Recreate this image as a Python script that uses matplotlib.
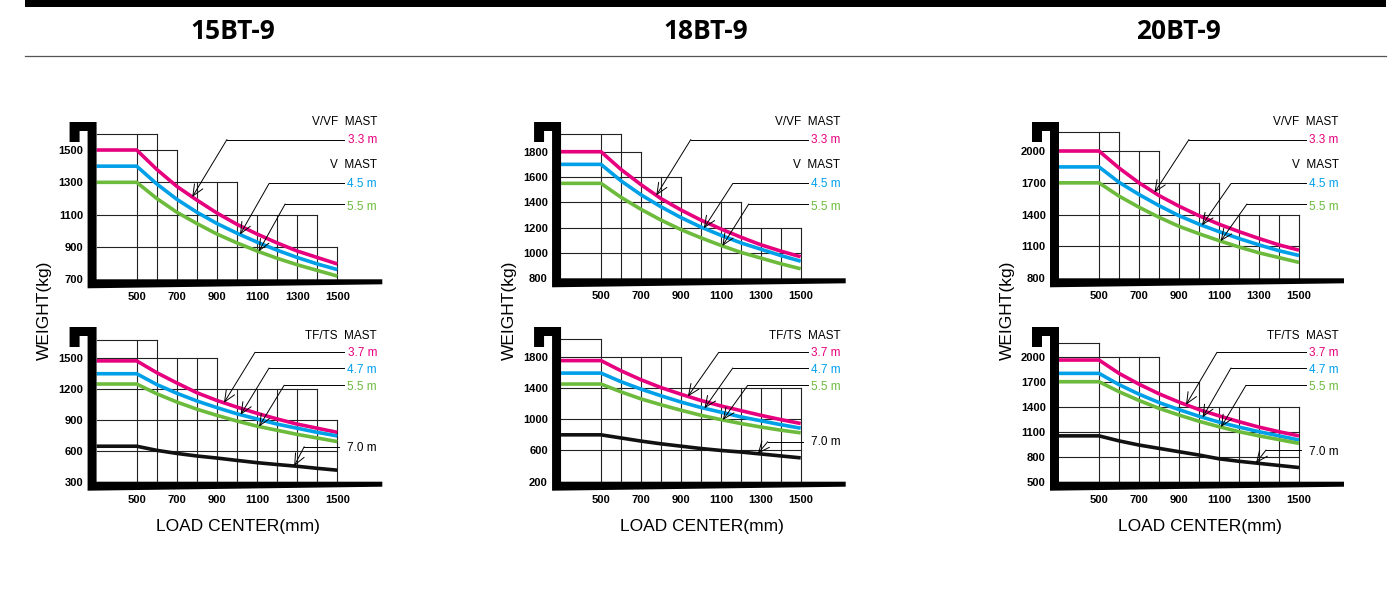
import numpy as np
import matplotlib
matplotlib.use("Agg")
from matplotlib import pyplot as plt
from matplotlib.patches import Polygon, Rectangle
from matplotlib.lines import Line2D
from matplotlib.transforms import blended_transform_factory

########################################################################
# data
########################################################################

models = ["15BT-9", "18BT-9", "20BT-9"]
load_center = [300, 500, 600, 700, 800, 900, 1000, 1100, 1200, 1300, 1400, 1500]
x_ticks = [500, 700, 900, 1100, 1300, 1500]
grid_x = [500, 600, 700, 800, 900, 1000, 1100, 1200, 1300, 1400, 1500]

# 15BT-9, V/VF and V mast
bt15_v_ticks = [700, 900, 1100, 1300, 1500]
bt15_v_steps = [(600, 1600), (700, 1500), (1000, 1300), (1400, 1100), (1500, 900)]
bt15_v_33 = [1500, 1500, 1380, 1275, 1190, 1110, 1040, 980, 925, 875, 835, 795]
bt15_v_45 = [1400, 1400, 1290, 1195, 1115, 1045, 985, 930, 880, 835, 795, 760]
bt15_v_55 = [1300, 1300, 1200, 1115, 1045, 980, 925, 875, 830, 790, 755, 720]

# 15BT-9, TF/TS mast
bt15_t_ticks = [300, 600, 900, 1200, 1500]
bt15_t_steps = [(600, 1680), (900, 1500), (1400, 1200), (1500, 900)]
bt15_t_37 = [1475, 1475, 1360, 1260, 1165, 1090, 1025, 965, 910, 860, 820, 780]
bt15_t_47 = [1350, 1350, 1245, 1160, 1085, 1020, 960, 910, 860, 820, 780, 745]
bt15_t_55 = [1250, 1250, 1155, 1075, 1005, 945, 890, 840, 800, 760, 725, 690]
bt15_t_70 = [645, 645, 605, 575, 550, 530, 507, 485, 467, 450, 430, 412]

# 18BT-9, V/VF and V mast
bt18_v_ticks = [800, 1000, 1200, 1400, 1600, 1800]
bt18_v_steps = [(600, 1940), (700, 1800), (900, 1600), (1200, 1400), (1500, 1200)]
bt18_v_33 = [1800, 1800, 1660, 1540, 1430, 1340, 1260, 1190, 1125, 1065, 1015, 970]
bt18_v_45 = [1700, 1700, 1570, 1460, 1365, 1280, 1205, 1140, 1080, 1030, 980, 935]
bt18_v_55 = [1550, 1550, 1440, 1345, 1260, 1185, 1120, 1060, 1005, 960, 915, 875]

# 18BT-9, TF/TS mast
bt18_t_ticks = [200, 600, 1000, 1400, 1800]
bt18_t_steps = [(500, 2030), (900, 1800), (1500, 1400)]
bt18_t_37 = [1750, 1750, 1620, 1505, 1405, 1320, 1240, 1170, 1110, 1050, 995, 945]
bt18_t_47 = [1590, 1590, 1480, 1385, 1300, 1220, 1150, 1090, 1030, 980, 930, 885]
bt18_t_55 = [1450, 1450, 1350, 1260, 1185, 1115, 1050, 995, 945, 900, 860, 825]
bt18_t_70 = [800, 800, 760, 720, 685, 655, 625, 600, 580, 555, 530, 505]

# 20BT-9, V/VF and V mast
bt20_v_ticks = [800, 1100, 1400, 1700, 2000]
bt20_v_steps = [(600, 2180), (800, 2000), (1100, 1700), (1500, 1400)]
bt20_v_33 = [2000, 2000, 1840, 1700, 1580, 1480, 1390, 1310, 1240, 1175, 1115, 1065]
bt20_v_45 = [1850, 1850, 1705, 1590, 1485, 1390, 1310, 1240, 1175, 1115, 1060, 1015]
bt20_v_55 = [1700, 1700, 1575, 1470, 1375, 1290, 1220, 1155, 1095, 1040, 995, 950]

# 20BT-9, TF/TS mast
bt20_t_ticks = [500, 800, 1100, 1400, 1700, 2000]
bt20_t_steps = [(500, 2170), (800, 2000), (1000, 1700), (1500, 1400)]
bt20_t_37 = [1960, 1960, 1800, 1670, 1555, 1455, 1365, 1290, 1220, 1155, 1100, 1050]
bt20_t_47 = [1800, 1800, 1665, 1550, 1450, 1365, 1285, 1215, 1155, 1100, 1050, 1000]
bt20_t_55 = [1700, 1700, 1580, 1475, 1380, 1300, 1225, 1160, 1100, 1050, 1005, 960]
bt20_t_70 = [1050, 1050, 990, 940, 900, 860, 820, 775, 745, 720, 695, 670]

v_labels = ["3.3 m", "4.5 m", "5.5 m"]
t_labels = ["3.7 m", "4.7 m", "5.5 m", "7.0 m"]

MAGENTA = "#E6007E"
CYAN = "#00A0E9"
GREEN = "#6CBB3C"
BLACK = "#111111"

########################################################################
# layout (figure pixels, measured from the top-left corner)
########################################################################

W, H = 1391, 590
fig = plt.figure(figsize=(W / 100, H / 100), dpi=100, facecolor="w")
plt.rcParams["font.family"] = ["Liberation Sans", "DejaVu Sans"]

# x pixel of 500mm / 1500mm for each column
col_x = [(136.7, 337.3), (601.0, 800.7), (1099.0, 1299.0)]
# (low value, its pixel row, high value, its pixel row, hook top row)
row_geom = {
    ("15BT-9", "v"): (700, 279.3, 1500, 150.0, 122.0),
    ("15BT-9", "t"): (300, 481.7, 1500, 358.3, 327.0),
    ("18BT-9", "v"): (800, 278.3, 1800, 151.7, 122.0),
    ("18BT-9", "t"): (200, 481.7, 1800, 356.7, 327.0),
    ("20BT-9", "v"): (800, 278.3, 2000, 151.0, 122.0),
    ("20BT-9", "t"): (500, 481.7, 2000, 356.7, 327.0),
}
title_x = [233, 706, 1178]
seven_m_rows = [(448.3, 446.7), (442.3, 441.7), (451.7, 450.0)]


def make_panel(x500, x1500, ylo, plo, yhi, phi, ptop):
    sx = (x1500 - x500) / 1000.0
    sy = (plo - phi) / float(yhi - ylo)
    left = x500 - 200 * sx
    ax = fig.add_axes([left / W, 1 - plo / H, (x1500 - left) / W, (plo - ptop) / H])
    ax.set_xlim(300, 1500)
    ax.set_ylim(ylo, ylo + (plo - ptop) / sy)
    for sp in ax.spines.values():
        sp.set_visible(False)
    ax.patch.set_alpha(0)

    def to_data(px, py):
        return 300 + (px - left) / sx, ylo + (plo - py) / sy

    # thick L-shaped frame with the hook on top
    R = x1500 + 45
    pts = [(left - 27, ptop), (left, ptop), (left, plo), (R, plo), (R, plo + 5),
           (left - 9, plo + 9), (left - 9, ptop + 9), (left - 17, ptop + 9),
           (left - 17, ptop + 20), (left - 27, ptop + 20)]
    ax.add_patch(Polygon([to_data(*p) for p in pts], closed=True, color="black",
                         lw=0, clip_on=False, zorder=5))
    return ax, left


def draw_grid(ax, ticks, steps):
    ylo = ax.get_ylim()[0]
    levels = sorted(set([t for t in ticks if t > ylo] + [s[1] for s in steps]))
    for lv in levels:
        xr = max(s[0] for s in steps if s[1] >= lv)
        ax.plot([300, xr], [lv, lv], color="#222222", lw=0.8, zorder=1, clip_on=False)
    for gx in grid_x:
        top = next(s[1] for s in steps if s[0] >= gx)
        ax.plot([gx, gx], [ylo, top], color="#222222", lw=0.8, zorder=1, clip_on=False)


def draw_leader(ax, blend, series, tip_x, knee_x, end_x, row):
    yf = 1 - row / H
    ax.plot([knee_x, end_x], [yf, yf], color="black", lw=0.7, transform=blend,
            clip_on=False, zorder=6)
    tip_y = np.interp(tip_x, load_center, series)
    ax.annotate("", xy=(tip_x, tip_y), xycoords="data", xytext=(knee_x, yf),
                textcoords=blend, zorder=6,
                arrowprops=dict(arrowstyle="->,head_length=0.8,head_width=0.35",
                                lw=0.7, color="black", shrinkA=0, shrinkB=0))


all_series = {
    ("15BT-9", "v"): (bt15_v_ticks, bt15_v_steps, [bt15_v_33, bt15_v_45, bt15_v_55]),
    ("15BT-9", "t"): (bt15_t_ticks, bt15_t_steps, [bt15_t_37, bt15_t_47, bt15_t_55, bt15_t_70]),
    ("18BT-9", "v"): (bt18_v_ticks, bt18_v_steps, [bt18_v_33, bt18_v_45, bt18_v_55]),
    ("18BT-9", "t"): (bt18_t_ticks, bt18_t_steps, [bt18_t_37, bt18_t_47, bt18_t_55, bt18_t_70]),
    ("20BT-9", "v"): (bt20_v_ticks, bt20_v_steps, [bt20_v_33, bt20_v_45, bt20_v_55]),
    ("20BT-9", "t"): (bt20_t_ticks, bt20_t_steps, [bt20_t_37, bt20_t_47, bt20_t_55, bt20_t_70]),
}
colors = [MAGENTA, CYAN, GREEN, BLACK]

for ci, model in enumerate(models):
    x500, x1500 = col_x[ci]
    for kind in ["v", "t"]:
        ylo, plo, yhi, phi, ptop = row_geom[(model, kind)]
        ax, left = make_panel(x500, x1500, ylo, plo, yhi, phi, ptop)
        ticks, steps, series = all_series[(model, kind)]
        draw_grid(ax, ticks, steps)
        for s, c in zip(series, colors):
            ax.plot(load_center, s, color=c, lw=2.6, zorder=3, solid_capstyle="butt",
                    clip_on=False)
        ax.set_xticks(x_ticks)
        ax.set_yticks(ticks)
        ax.tick_params(length=0, labelsize=8, pad=9.5)
        for lab in ax.get_xticklabels() + ax.get_yticklabels():
            lab.set_fontweight("bold")

        blend = blended_transform_factory(ax.transData, fig.transFigure)
        if kind == "v":
            for txt, row in [("V/VF  MAST", 121.7), ("V  MAST", 165.0)]:
                ax.text(1698, 1 - row / H, txt, transform=blend, ha="right",
                        va="center", fontsize=8.5, color="black")
            rows_t = [140.0, 184.0, 206.5]
            rows_l = [139.5, 183.5, 204.0]
            knees = [950, 1160, 1240]
            tips = [777, 1015, 1108]
            for i in range(3):
                ax.text(1698, 1 - rows_t[i] / H, v_labels[i], transform=blend,
                        ha="right", va="center", fontsize=8.5, color=colors[i])
                draw_leader(ax, blend, series[i], tips[i], knees[i], 1535, rows_l[i])
        else:
            ax.text(1698, 1 - 335.7 / H, "TF/TS  MAST", transform=blend, ha="right",
                    va="center", fontsize=8.5, color="black")
            rows_t = [353.3, 370.0, 386.7]
            rows_l = [352.3, 368.0, 385.3]
            knees = [1090, 1160, 1235]
            tips = [935, 1018, 1110]
            for i in range(3):
                ax.text(1698, 1 - rows_t[i] / H, t_labels[i], transform=blend,
                        ha="right", va="center", fontsize=8.5, color=colors[i])
                draw_leader(ax, blend, series[i], tips[i], knees[i], 1535, rows_l[i])
            rt, rl = seven_m_rows[ci]
            ax.text(1698, 1 - rt / H, t_labels[3], transform=blend, ha="right",
                    va="center", fontsize=8.5, color="black")
            draw_leader(ax, blend, series[3], 1285, 1335, 1510, rl)

    # axis titles of the column
    fig.text((left - 52) / W, 1 - 310 / H, "WEIGHT(kg)", rotation=90, ha="center",
             va="center", fontsize=12.5)
    fig.text((x500 + 101) / W, 1 - 527 / H, "LOAD CENTER(mm)", ha="center",
             va="center", fontsize=12.5)
    fig.text(title_x[ci] / W, 1 - 31.7 / H, model, ha="center", va="center",
             fontsize=19, fontweight="bold", family=["Open Sans", "DejaVu Sans"])

# header band and rule
fig.patches.append(Rectangle((25 / W, 1 - 7 / H), 1361 / W, 7 / H,
                             transform=fig.transFigure, color="black", lw=0))
fig.lines.append(Line2D([25 / W, 1386 / W], [1 - 56 / H, 1 - 56 / H],
                        transform=fig.transFigure, color="#555555", lw=0.9))

fig.savefig("out.png", dpi=100)
